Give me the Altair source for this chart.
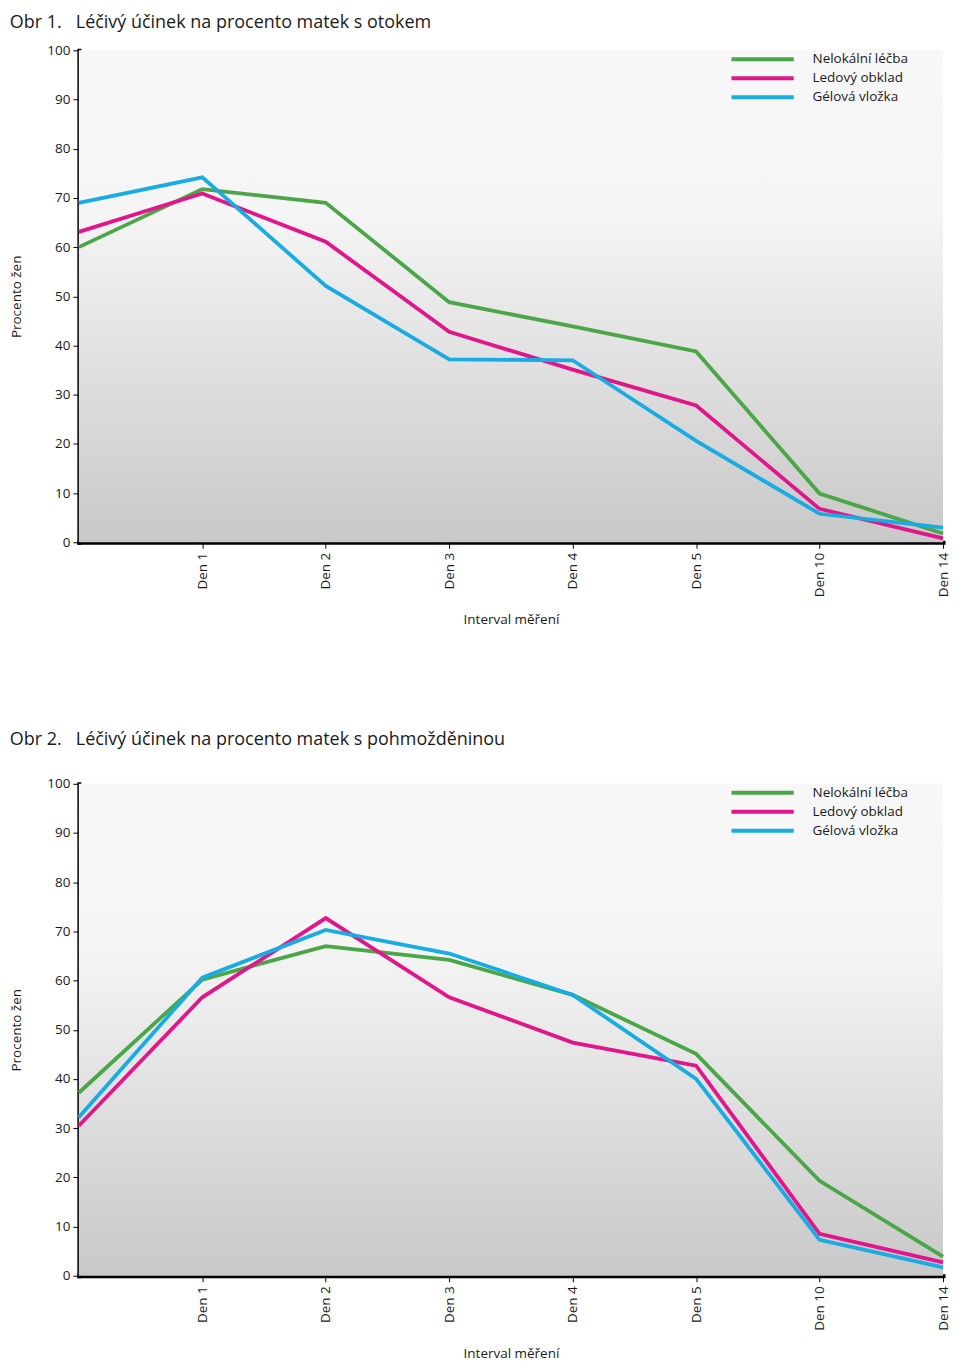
import altair as alt
import pandas as pd

# ---- data ----
days = ["", "Den 1", "Den 2", "Den 3", "Den 4", "Den 5", "Den 10", "Den 14"]
series = ["Nelokální léčba", "Ledový obklad", "Gélová vložka"]
colors = ["#4BA647", "#E0168A", "#18ACE3"]
y_ticks = [0, 10, 20, 30, 40, 50, 60, 70, 80, 90, 100]

obr1_title = "Obr 1.\u00a0\u00a0\u00a0Léčivý účinek na procento matek s otokem"
obr2_title = "Obr 2.\u00a0\u00a0\u00a0Léčivý účinek na procento matek s pohmožděninou"
x_title = "Interval měření"
y_title = "Procento žen"

obr1_nelokalni = [60.0, 71.8, 69.0, 48.8, 43.9, 38.8, 9.9, 1.8]
obr1_ledovy = [63.1, 70.9, 61.1, 42.8, 35.1, 27.8, 6.8, 0.8]
obr1_gelova = [69.0, 74.2, 52.1, 37.2, 37.0, 20.6, 5.8, 3.0]

obr2_nelokalni = [37.2, 60.2, 67.0, 64.2, 57.1, 45.1, 19.3, 3.9]
obr2_ledovy = [30.5, 56.6, 72.7, 56.6, 47.4, 42.7, 8.5, 2.7]
obr2_gelova = [32.2, 60.6, 70.3, 65.5, 57.1, 40.0, 7.3, 1.7]

FONT = "Open Sans"
TXT = "#1a1a1a"
W, H = 866, 493


def panel(title, values_by_series, title_offset):
    rows = []
    for s, vals in zip(series, values_by_series):
        for d, v in zip(days, vals):
            rows.append({"den": d, "serie": s, "procento": v})
    df = pd.DataFrame(rows)

    bg = alt.Chart(alt.Data(values=[{}])).mark_rect(
        color=alt.LinearGradient(
            gradient="linear",
            stops=[
                alt.GradientStop(offset=0, color="#f8f8f8"),
                alt.GradientStop(offset=0.33, color="#f5f5f5"),
                alt.GradientStop(offset=1, color="#c8c8c8"),
            ],
            x1=0, x2=0, y1=0, y2=1,
        )
    ).encode(
        x=alt.value(0), x2=alt.value("width"),
        y=alt.value(0), y2=alt.value("height"),
    )

    lines = alt.Chart(df).mark_line(strokeWidth=3.8).encode(
        x=alt.X(
            "den:O", sort=days, title=x_title,
            scale=alt.Scale(type="point", padding=0),
            axis=alt.Axis(
                labelAngle=270, labelAlign="right", labelBaseline="middle",
                labelPadding=4, tickSize=6, tickColor="black", tickWidth=1,
                tickOpacity={"condition": {"test": "datum.value === ''", "value": 0}, "value": 1},
                domainColor="black", domainWidth=4, domainCap="square",
                labelFontSize=13.5, labelFont=FONT, labelColor=TXT,
                titleFontSize=13.5, titleFont=FONT, titleFontWeight="normal",
                titleColor=TXT, titlePadding=16, grid=False, labelOverlap=False,
            ),
        ),
        y=alt.Y(
            "procento:Q", title=y_title,
            scale=alt.Scale(domain=[0, 100], nice=False),
            axis=alt.Axis(
                values=y_ticks, tickSize=6, tickColor="black", tickWidth=1,
                domainColor="black", domainWidth=4, domainCap="square",
                labelFontSize=13.5, labelFont=FONT, labelColor=TXT, labelPadding=3,
                titleFontSize=13.5, titleFont=FONT, titleFontWeight="normal",
                titleColor=TXT, titlePadding=23, grid=False,
            ),
        ),
        color=alt.Color(
            "serie:N", sort=series,
            scale=alt.Scale(domain=series, range=colors),
            legend=alt.Legend(
                title=None, orient="none", legendX=654, legendY=1,
                symbolType="M-5.2,0H5.2", symbolSize=144, symbolStrokeWidth=4,
                symbolOffset=23.2, labelOffset=42, rowPadding=3, padding=0,
                labelFontSize=13.5, labelFont=FONT, labelColor=TXT,
            ),
        ),
    )

    return alt.layer(bg, lines).properties(
        width=W, height=H,
        title=alt.TitleParams(
            text=title, anchor="start", fontSize=18, font=FONT,
            fontWeight="normal", color=TXT, offset=title_offset,
        ),
    )


p1 = panel(obr1_title, [obr1_nelokalni, obr1_ledovy, obr1_gelova], 11.5)
p2 = panel(obr2_title, [obr2_nelokalni, obr2_ledovy, obr2_gelova], 27.5)

chart = (
    alt.vconcat(p1, p2, spacing=104)
    .resolve_scale(color="independent")
    .resolve_legend(color="independent")
    .properties(padding={"left": 1, "top": 4, "right": 0, "bottom": 0})
    .configure(font=FONT, background="white")
    .configure_view(stroke="transparent")
)

chart.save("out.html", embed_options={"renderer": "svg", "actions": False})
